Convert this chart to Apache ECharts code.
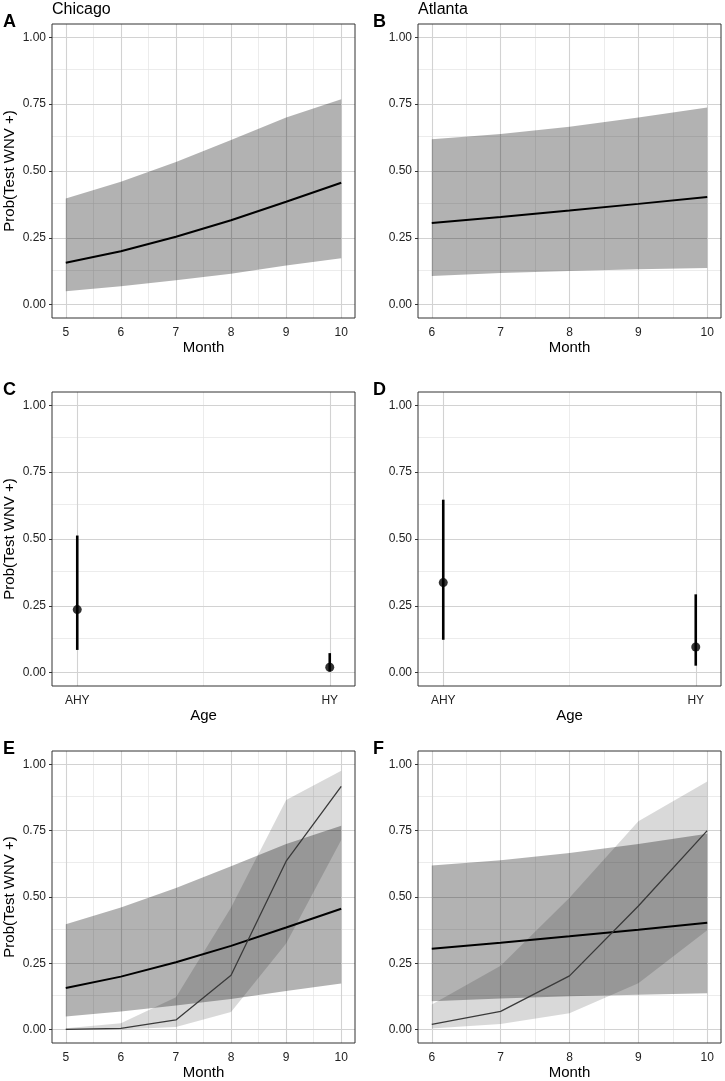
<!DOCTYPE html>
<html><head><meta charset="utf-8">
<script src="https://cdn.jsdelivr.net/npm/echarts@6/dist/echarts.min.js"></script>
<style>html,body{margin:0;padding:0;background:#fff}#c{width:725px;height:1081px}</style>
</head><body><div id="c"></div>
<script>
// ---------- data ----------
const monthsChicago = [5, 6, 7, 8, 9, 10];
const chicagoMean  = [0.157, 0.200, 0.254, 0.316, 0.385, 0.456];
const chicagoLower = [0.050, 0.069, 0.091, 0.116, 0.146, 0.174];
const chicagoUpper = [0.397, 0.460, 0.534, 0.616, 0.700, 0.768];

const monthsAtlanta = [6, 7, 8, 9, 10];
const atlantaMean  = [0.305, 0.328, 0.352, 0.377, 0.403];
const atlantaLower = [0.107, 0.118, 0.126, 0.132, 0.137];
const atlantaUpper = [0.619, 0.638, 0.666, 0.700, 0.738];

const ageCategories = ['AHY', 'HY'];
const chicagoAgeMean  = [0.236, 0.020];
const chicagoAgeLower = [0.085, 0.004];
const chicagoAgeUpper = [0.513, 0.073];
const atlantaAgeMean  = [0.337, 0.096];
const atlantaAgeLower = [0.123, 0.026];
const atlantaAgeUpper = [0.647, 0.293];

const chicagoHYMean  = [0.001, 0.005, 0.037, 0.205, 0.635, 0.917];
const chicagoHYLower = [0.000, 0.001, 0.010, 0.067, 0.325, 0.715];
const chicagoHYUpper = [0.006, 0.024, 0.122, 0.460, 0.865, 0.976];

const atlantaHYMean  = [0.020, 0.069, 0.203, 0.466, 0.750];
const atlantaHYLower = [0.005, 0.022, 0.062, 0.175, 0.375];
const atlantaHYUpper = [0.095, 0.241, 0.497, 0.785, 0.935];

const monthTicksChicago = [5, 6, 7, 8, 9, 10];
const monthTicksAtlanta = [6, 7, 8, 9, 10];
const probTicks = [0, 0.25, 0.5, 0.75, 1];
const ageTicks = [1, 2];

// ---------- styling ----------
const FONT = 'Liberation Sans';
const DARK = 'rgba(0,0,0,0.30)';
const LIGHT = 'rgba(0,0,0,0.15)';

function mids(arr) { const r = []; for (let i = 0; i < arr.length - 1; i++) r.push((arr[i] + arr[i + 1]) / 2); return r; }

function gridMarkLine(xMajor, xMinor, yMajor, yMinor) {
  const maj = { color: '#d2d2d2', width: 1.1, type: 'solid', opacity: 1 };
  const mnr = { color: '#e4e4e4', width: 0.7, type: 'solid', opacity: 1 };
  return {
    silent: true, symbol: ['none', 'none'], z: 1, animation: false,
    label: { show: false }, emphasis: { disabled: true },
    lineStyle: { type: 'solid' },
    data: [].concat(
      xMinor.map(v => ({ xAxis: v, lineStyle: mnr })),
      yMinor.map(v => ({ yAxis: v, lineStyle: mnr })),
      xMajor.map(v => ({ xAxis: v, lineStyle: maj })),
      yMajor.map(v => ({ yAxis: v, lineStyle: maj }))
    )
  };
}

const gridRects = [
  { left: 52, top: 24, width: 303, height: 294 },
  { left: 418, top: 24, width: 303, height: 294 },
  { left: 52, top: 392, width: 303, height: 294 },
  { left: 418, top: 392, width: 303, height: 294 },
  { left: 52, top: 751, width: 303, height: 294 },
  { left: 418, top: 751, width: 303, height: 294 }
];
const grids = gridRects.map(g => Object.assign({
  show: true, borderColor: '#333', borderWidth: 1, backgroundColor: 'transparent', z: 10
}, g));

function xAx(gi, min, max, ticks, name, fmt) {
  return {
    type: 'value', gridIndex: gi, min, max, name, nameLocation: 'middle', nameGap: 22,
    nameTextStyle: { fontFamily: FONT, fontSize: 15, color: '#000' },
    axisLine: { show: false }, splitLine: { show: false }, minorSplitLine: { show: false },
    axisTick: { show: true, length: 3, customValues: ticks, lineStyle: { color: '#333', width: 1 } },
    axisLabel: { customValues: ticks, margin: 8.5, fontFamily: FONT, fontSize: 12, color: '#222',
      formatter: fmt || (v => String(v)) }
  };
}
function yAx(gi, name) {
  return {
    type: 'value', gridIndex: gi, min: -0.05, max: 1.05, name: name || '',
    nameLocation: 'middle', nameGap: 35, nameRotate: 90,
    nameTextStyle: { fontFamily: FONT, fontSize: 15, color: '#000' },
    axisLine: { show: false }, splitLine: { show: false }, minorSplitLine: { show: false },
    axisTick: { show: true, length: 3, customValues: probTicks, lineStyle: { color: '#333', width: 1 } },
    axisLabel: { customValues: probTicks, margin: 6, fontFamily: FONT, fontSize: 12, color: '#222',
      formatter: v => v.toFixed(2) }
  };
}

const ageFmt = v => { const i = Math.round(v) - 1; return (Math.abs(v - Math.round(v)) < 1e-6 && ageCategories[i]) ? ageCategories[i] : ''; };

const xAxes = [
  xAx(0, 4.75, 10.25, monthTicksChicago, 'Month'),
  xAx(1, 5.8, 10.2, monthTicksAtlanta, 'Month'),
  xAx(2, 0.9, 2.1, ageTicks, 'Age', ageFmt),
  xAx(3, 0.9, 2.1, ageTicks, 'Age', ageFmt),
  xAx(4, 4.75, 10.25, monthTicksChicago, 'Month'),
  xAx(5, 5.8, 10.2, monthTicksAtlanta, 'Month')
];
const yAxes = [
  yAx(0, 'Prob(Test WNV +)'), yAx(1), yAx(2, 'Prob(Test WNV +)'),
  yAx(3), yAx(4, 'Prob(Test WNV +)'), yAx(5)
];

function bandSeries(gi, xs, lo, hi, color) {
  return {
    type: 'custom', xAxisIndex: gi, yAxisIndex: gi, z: 2, silent: true, animation: false,
    data: xs.map((x, i) => [x, lo[i], hi[i]]),
    encode: { x: 0, y: [1, 2] },
    renderItem(params, api) {
      if (params.dataIndexInside !== 0) return null;
      const n = params.dataInsideLength;
      const top = [], bot = [];
      for (let i = 0; i < n; i++) {
        const x = api.value(0, i);
        top.push(api.coord([x, api.value(2, i)]));
        bot.push(api.coord([x, api.value(1, i)]));
      }
      return { type: 'polygon', shape: { points: top.concat(bot.reverse()) }, style: { fill: color } };
    }
  };
}
function lineSeries(gi, xs, ys, color, width, ml) {
  const s = {
    type: 'line', xAxisIndex: gi, yAxisIndex: gi, z: 4, silent: true, animation: false,
    data: xs.map((x, i) => [x, ys[i]]), symbol: 'none',
    lineStyle: { color, width }, itemStyle: { color }
  };
  if (ml) s.markLine = ml;
  return s;
}
function errSeries(gi, lo, hi) {
  return {
    type: 'custom', xAxisIndex: gi, yAxisIndex: gi, z: 3, silent: true, animation: false,
    data: ageCategories.map((c, i) => [i + 1, lo[i], hi[i]]),
    encode: { x: 0, y: [1, 2] },
    renderItem(params, api) {
      const p1 = api.coord([api.value(0), api.value(1)]);
      const p2 = api.coord([api.value(0), api.value(2)]);
      return { type: 'line', shape: { x1: p1[0], y1: p1[1], x2: p2[0], y2: p2[1] }, style: { stroke: '#000', lineWidth: 2.6 } };
    }
  };
}
function pointSeries(gi, ys, ml) {
  return {
    type: 'scatter', xAxisIndex: gi, yAxisIndex: gi, z: 4, silent: true, animation: false,
    data: ageCategories.map((c, i) => [i + 1, ys[i]]), symbol: 'circle', symbolSize: 9,
    itemStyle: { color: '#000' }, markLine: ml
  };
}

const mlChicago = () => gridMarkLine(monthTicksChicago, mids(monthTicksChicago), probTicks, mids(probTicks));
const mlAtlanta = () => gridMarkLine(monthTicksAtlanta, mids(monthTicksAtlanta), probTicks, mids(probTicks));
const mlAge = () => gridMarkLine(ageTicks, mids(ageTicks), probTicks, mids(probTicks));

const series = [
  // A
  bandSeries(0, monthsChicago, chicagoLower, chicagoUpper, DARK),
  lineSeries(0, monthsChicago, chicagoMean, '#000', 2, mlChicago()),
  // B
  bandSeries(1, monthsAtlanta, atlantaLower, atlantaUpper, DARK),
  lineSeries(1, monthsAtlanta, atlantaMean, '#000', 2, mlAtlanta()),
  // C
  errSeries(2, chicagoAgeLower, chicagoAgeUpper),
  pointSeries(2, chicagoAgeMean, mlAge()),
  // D
  errSeries(3, atlantaAgeLower, atlantaAgeUpper),
  pointSeries(3, atlantaAgeMean, mlAge()),
  // E
  bandSeries(4, monthsChicago, chicagoLower, chicagoUpper, DARK),
  bandSeries(4, monthsChicago, chicagoHYLower, chicagoHYUpper, LIGHT),
  lineSeries(4, monthsChicago, chicagoMean, '#000', 2, mlChicago()),
  lineSeries(4, monthsChicago, chicagoHYMean, '#3a3a3a', 1.3),
  // F
  bandSeries(5, monthsAtlanta, atlantaLower, atlantaUpper, DARK),
  bandSeries(5, monthsAtlanta, atlantaHYLower, atlantaHYUpper, LIGHT),
  lineSeries(5, monthsAtlanta, atlantaMean, '#000', 2, mlAtlanta()),
  lineSeries(5, monthsAtlanta, atlantaHYMean, '#3a3a3a', 1.3)
];

function txt(x, y, text, size, bold) {
  return { type: 'text', x, y, silent: true, z: 20,
    style: { text, fontFamily: FONT, fontSize: size, fontWeight: bold ? 'bold' : 'normal', fill: '#000', verticalAlign: 'middle', align: 'left' } };
}
const graphics = [
  txt(3, 22, 'A', 18, true), txt(52, 10, 'Chicago', 16, false),
  txt(373, 22, 'B', 18, true), txt(418, 10, 'Atlanta', 16, false),
  txt(3, 390, 'C', 18, true), txt(373, 390, 'D', 18, true),
  txt(3, 749, 'E', 18, true), txt(373, 749, 'F', 18, true)
];

const chart = echarts.init(document.getElementById('c'), null, { renderer: 'canvas' });
chart.setOption({
  animation: false,
  backgroundColor: '#fff',
  textStyle: { fontFamily: FONT },
  grid: grids, xAxis: xAxes, yAxis: yAxes, series, graphic: graphics
});
</script></body></html>
